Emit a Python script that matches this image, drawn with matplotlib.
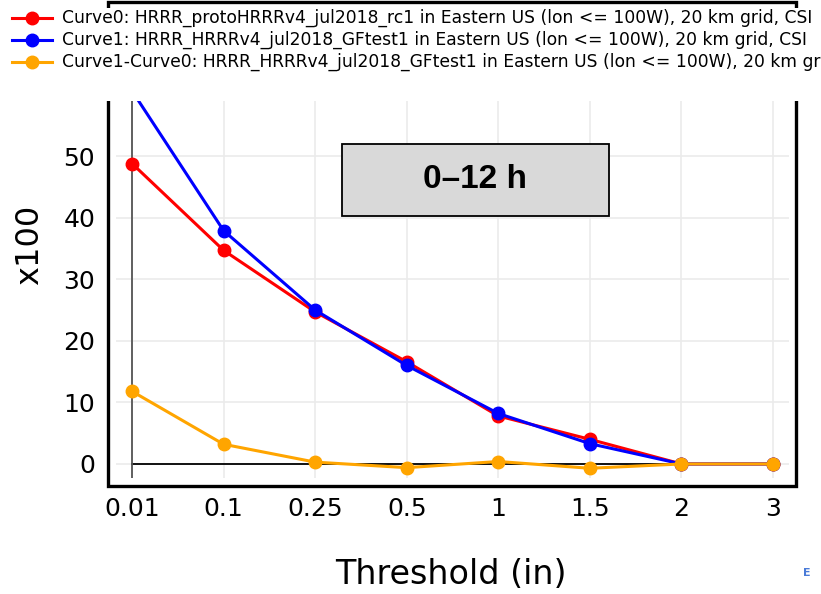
import numpy as np
import matplotlib.pyplot as plt
from matplotlib.patches import Rectangle

thresholds = ['0.01', '0.1', '0.25', '0.5', '1', '1.5', '2', '3']
curve0 = [48.8, 34.7, 24.7, 16.6, 7.8, 4.0, 0.0, 0.0]
curve1 = [60.6, 37.9, 25.0, 16.0, 8.2, 3.3, 0.0, 0.0]
diff = [11.8, 3.2, 0.3, -0.6, 0.4, -0.7, 0.0, 0.0]

labels = ['Curve0: HRRR_protoHRRRv4_jul2018_rc1 in Eastern US (lon <= 100W), 20 km grid, CSI',
          'Curve1: HRRR_HRRRv4_jul2018_GFtest1 in Eastern US (lon <= 100W), 20 km grid, CSI',
          'Curve1-Curve0: HRRR_HRRRv4_jul2018_GFtest1 in Eastern US (lon <= 100W), 20 km grid, CSI']
colors = ['#ff0000', '#0000ff', '#ffa500']

W, H = 821, 594
plt.rcParams['font.family'] = 'DejaVu Sans'
fig = plt.figure(figsize=(W/100, H/100), dpi=100)

# inner plot area (pixels)
L, R, T, B = 116, 789, 9, 478
ax = fig.add_axes([L/W, 1-B/H, (R-L)/W, (B-T)/H])
x = np.arange(len(thresholds))
ax.set_xlim(-0.175, 7.175)
ax.set_ylim(-2.28, 73.9)
for s in ax.spines.values():
    s.set_visible(False)
ax.grid(True, color='#ebebeb', lw=1.2)
ax.set_axisbelow(True)
ax.set_xticks(x)
ax.set_xticklabels(thresholds)
ax.set_yticks(np.arange(0, 60, 10))
ax.tick_params(length=0, labelsize=18, pad=14)
ax.tick_params(axis='y', pad=15)

ax.plot([0, 7], [0, 0], color='black', lw=1.3, zorder=2)
ax.plot([0, 0], [-2.28, 80], color='#555555', lw=1.3, zorder=2)

for y, c, lab in zip([curve0, curve1, diff], colors, labels):
    ax.plot(x, y, color=c, lw=2.2, marker='o', ms=9, label=lab, zorder=3)

fig.text(451/W, 1-575/H, 'Threshold (in)', fontsize=24, ha='center', va='center')
fig.text(30/W, 1-245/H, 'x100', fontsize=23, rotation=90, ha='center', va='center')

# outer frame
fig.patches.append(Rectangle((108/W, 1-486/H), (796-108)/W, (486-2)/H,
                             transform=fig.transFigure, fill=False,
                             ec='black', lw=2.4, zorder=5))

# annotation box
fig.patches.append(Rectangle((342/W, 1-216/H), 267/W, 72/H, transform=fig.transFigure,
                             fc='#d9d9d9', ec='black', lw=1.3, zorder=5))
fig.text(475/W, 1-180/H, '0\u201312 h', fontsize=24, fontweight='bold',
         family='Liberation Sans', ha='center', va='center', zorder=6)

# legend band covering top of plot
fig.patches.append(Rectangle((0, 1-101/H), 1, (101-8)/H, transform=fig.transFigure,
                             fc='white', ec='none', zorder=7))
for i, (c, lab) in enumerate(zip(colors, labels)):
    yy = 1 - (18 + 22*i)/H
    fig.lines.append(plt.Line2D([12/W, 52/W], [yy, yy], transform=fig.transFigure,
                                color=c, lw=2.2, zorder=8))
    fig.lines.append(plt.Line2D([32/W], [yy], transform=fig.transFigure,
                                color=c, marker='o', ms=9, zorder=8))
    fig.text(62/W, yy, lab, fontsize=12.3, va='center', ha='left', zorder=9)

fig.text(803/W, 1-573/H, 'E', color='#4a7bd8', fontsize=8, fontweight='bold', va='center')

fig.savefig('out.png', dpi=100)
